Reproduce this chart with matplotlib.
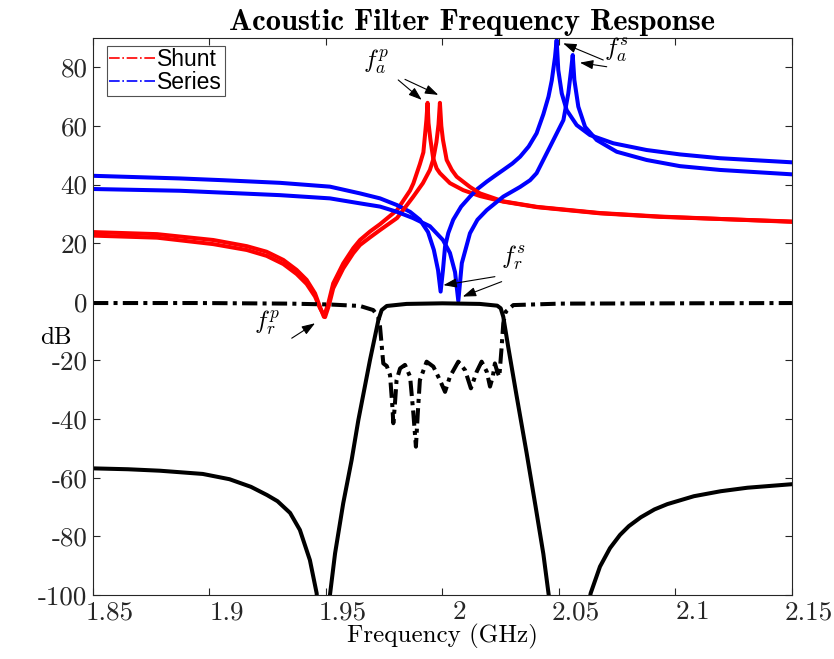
import numpy as np
import matplotlib
matplotlib.use('Agg')
from matplotlib import pyplot as plt
from matplotlib.lines import Line2D
import matplotlib.transforms as mtransforms

plt.rcParams['font.family'] = 'serif'
plt.rcParams['font.serif'] = ['cmr10']
plt.rcParams['mathtext.fontset'] = 'cm'
plt.rcParams['axes.unicode_minus'] = False
plt.rcParams['axes.formatter.use_mathtext'] = True

# shunt resonators (impedance, dB)
f_shunt1 = [1.8500, 1.8775, 1.9016, 1.9160, 1.9245, 1.9317, 1.9374, 1.9417, 1.9453, 1.9474,
            1.9491, 1.9510, 1.9531, 1.9574, 1.9617, 1.9646, 1.9689, 1.9732, 1.9805, 1.9861,
            1.9875, 1.9903, 1.9918, 1.9925, 1.9931, 1.9936, 1.9940, 1.9948, 1.9960, 1.9975,
            1.9989, 2.0032, 2.0089, 2.0161, 2.0260, 2.0406, 2.0676, 2.0933, 2.1500]
db_shunt1 = [23.8, 23.1, 21.1, 19.0, 17.1, 14.3, 10.9, 7.5, 2.9, -1.7,
             -5.1, -0.5, 6.3, 13.1, 18.3, 21.1, 24.0, 26.5, 31.3, 38.0,
             40.4, 47.0, 51.0, 56.9, 62.0, 67.9, 61.0, 55.5, 49.0, 45.5,
             43.9, 40.5, 38.1, 36.1, 34.2, 32.3, 30.2, 29.0, 27.4]

f_shunt2 = [1.8500, 1.8775, 1.9016, 1.9160, 1.9245, 1.9317, 1.9374, 1.9417, 1.9453, 1.9474,
            1.9496, 1.9513, 1.9531, 1.9574, 1.9617, 1.9646, 1.9689, 1.9732, 1.9805, 1.9873,
            1.9916, 1.9946, 1.9960, 1.9974, 1.9983, 1.9989, 1.9995, 2.0002, 2.0018, 2.0040,
            2.0061, 2.0118, 2.0161, 2.0260, 2.0406, 2.0676, 2.0933, 2.1500]
db_shunt2 = [22.6, 21.9, 19.7, 17.7, 15.7, 12.9, 9.5, 6.1, 1.8, -2.1,
             -5.2, -1.1, 4.6, 11.4, 16.6, 19.4, 22.0, 24.5, 28.6, 35.7,
             40.5, 45.0, 48.5, 54.5, 60.5, 67.9, 60.0, 55.3, 48.4, 45.0,
             42.7, 39.2, 37.0, 34.3, 32.4, 30.3, 29.1, 27.3]

# series resonators
f_series1 = [1.8500, 1.8873, 1.9058, 1.9303, 1.9517, 1.9646, 1.9732, 1.9805, 1.9861, 1.9903,
             1.9938, 1.9963, 1.9981, 1.9992, 2.0002, 2.0011, 2.0025, 2.0046, 2.0080, 2.0118,
             2.0150, 2.0190, 2.0225, 2.0261, 2.0300, 2.0333, 2.0370, 2.0404, 2.0433, 2.0455,
             2.0469, 2.0483, 2.0490, 2.0497, 2.0512, 2.0533, 2.0576, 2.0633, 2.0733, 2.0876,
             2.1019, 2.1191, 2.1500]
db_series1 = [43.0, 42.1, 41.5, 40.6, 39.3, 37.0, 35.3, 33.0, 30.7, 28.0,
              23.8, 17.7, 10.8, 3.5, 10.8, 18.8, 23.5, 28.0, 32.5, 35.9,
              38.5, 41.0, 43.0, 45.0, 47.2, 49.5, 53.0, 57.5, 64.0, 70.0,
              75.5, 83.5, 89.3, 79.1, 71.1, 65.4, 60.3, 56.9, 54.1, 51.8,
              50.3, 49.0, 47.6]

f_series2 = [1.8500, 1.8873, 1.9303, 1.9517, 1.9646, 1.9732, 1.9805, 1.9873, 1.9946, 2.0002,
             2.0032, 2.0054, 2.0068, 2.0083, 2.0118, 2.0150, 2.0190, 2.0261, 2.0333, 2.0376,
             2.0404, 2.0462, 2.0519, 2.0540, 2.0552, 2.0559, 2.0566, 2.0583, 2.0612, 2.0662,
             2.0748, 2.0876, 2.1019, 2.1191, 2.1500]
db_series2 = [38.5, 37.9, 36.4, 35.3, 33.6, 32.5, 30.7, 28.6, 25.8, 21.1,
              16.7, 10.1, 0.3, 13.2, 23.4, 28.0, 31.3, 35.9, 39.2, 41.5,
              43.9, 53.0, 62.0, 71.1, 79.1, 84.2, 75.7, 66.6, 59.7, 55.2,
              51.2, 48.4, 46.3, 45.0, 43.5]

# filter transmission S21
f_s21 = [1.8500, 1.8650, 1.8787, 1.8971, 1.9086, 1.9178, 1.9247, 1.9292, 1.9346, 1.9388,
         1.9431, 1.9460, 1.9488, 1.9517, 1.9539, 1.9574, 1.9610, 1.9639, 1.9689, 1.9725,
         1.9739, 1.9761, 1.9846, 2.0000, 2.0160, 2.0235, 2.0250, 2.0261, 2.0282, 2.0318,
         2.0361, 2.0400, 2.0433, 2.0456, 2.0545, 2.0636, 2.0676, 2.0719, 2.0762, 2.0800,
         2.0851, 2.0910, 2.0965, 2.1079, 2.1194, 2.1309, 2.1500]
db_s21 = [-56.8, -57.1, -57.6, -58.7, -60.5, -63.1, -65.9, -68.0, -72.0, -77.8,
          -88.1, -99.4, -140.0, -100.0, -85.8, -68.7, -54.0, -40.3, -19.8, -6.2,
          -2.8, -1.4, -0.7, -0.5, -0.7, -1.3, -2.2, -5.1, -15.3, -32.0,
          -51.5, -70.0, -86.0, -100.0, -140.0, -99.4, -90.3, -84.0, -79.5, -76.5,
          -73.5, -70.8, -69.0, -66.3, -64.6, -63.4, -62.2]

# filter reflection S11
f_s11 = [1.8500, 1.8959, 1.9345, 1.9517, 1.9646, 1.9703, 1.9724, 1.9732, 1.9746, 1.9761,
         1.9775, 1.9785, 1.9789, 1.9795, 1.9803, 1.9818, 1.9839, 1.9861, 1.9875, 1.9886,
         1.9894, 1.9903, 1.9932, 1.9961, 1.9989, 2.0011, 2.0032, 2.0068, 2.0097, 2.0122,
         2.0147, 2.0168, 2.0190, 2.0204, 2.0216, 2.0225, 2.0235, 2.0244, 2.0254, 2.0261,
         2.0271, 2.0304, 2.0504, 2.1500]
db_s11 = [-0.4, -0.4, -0.6, -0.9, -1.4, -2.8, -5.1, -8.5, -21.0, -21.9,
          -25.0, -35.8, -41.4, -35.8, -26.7, -22.7, -21.5, -25.5, -38.0, -49.4,
          -38.0, -26.7, -20.4, -22.1, -26.7, -30.7, -25.5, -20.4, -23.3, -29.5,
          -23.8, -20.4, -23.8, -28.9, -25.5, -21.0, -23.8, -25.5, -15.3, -7.3,
          -3.4, -1.1, -0.6, -0.4]

xticks = [1.85, 1.9, 1.95, 2.0, 2.05, 2.1, 2.15]
xticklabels = ['1.85', '1.9', '1.95', '2', '2.05', '2.1', '2.15']
yticks = [-100, -80, -60, -40, -20, 0, 20, 40, 60, 80]
yticklabels = ['-100', '-80', '-60', '-40', '-20', '0', '20', '40', '60', '80']

fig = plt.figure(figsize=(8.34, 6.59), dpi=100)
ax = fig.add_axes([0.1115, 0.0971, 0.8381, 0.8452])

ax.plot(f_shunt1, db_shunt1, color='#ff0000', lw=2.9)
ax.plot(f_series1, db_series1, color='#0000ff', lw=2.9)
ax.plot(f_shunt2, db_shunt2, color='#ff0000', lw=2.9)
ax.plot(f_series2, db_series2, color='#0000ff', lw=2.9)
ax.plot(f_s21, db_s21, color='k', lw=2.9)
ax.plot(f_s11, db_s11, color='k', lw=2.9, linestyle=(0, (3.8, 1.3, 1.0, 1.3)),
        dash_capstyle='butt')

ax.set_xlim(1.85, 2.15)
ax.set_ylim(-100, 90)
ax.set_xticks(xticks)
ax.set_xticklabels(xticklabels)
ax.set_yticks(yticks)
ax.set_yticklabels(yticklabels)
ax.tick_params(direction='in', length=5, width=0.8, top=True, right=True,
               labelsize=19.5, colors='#262626', pad=4)
for s in ax.spines.values():
    s.set_color('#262626')
    s.set_linewidth(0.8)

# MATLAB latex tick labels sit a bit to the right
offset = mtransforms.ScaledTranslation(0.17, 0, fig.dpi_scale_trans)
for lab in ax.get_xticklabels():
    lab.set_transform(lab.get_transform() + offset)

ax.set_title('Acoustic Filter Frequency Response', fontfamily='cmb10', fontsize=22,
             x=0.542, pad=6)
ax.set_xlabel('Frequency (GHz)', fontsize=18, labelpad=0)
ax.set_ylabel('dB', fontsize=18, rotation=0, ha='center', va='center')
ax.yaxis.set_label_coords(-0.053, 0.462)

# annotations
aprops = dict(arrowstyle='-|>,head_length=0.8,head_width=0.28', color='k', lw=0.8,
              shrinkA=0, shrinkB=0)
ax.text(1.9715, 81.8, '$f_a^p$', fontsize=18, ha='center', va='center')
ax.annotate('', xy=(1.9911, 68.9), xytext=(1.9810, 75.7), arrowprops=aprops)
ax.annotate('', xy=(1.9982, 70.6), xytext=(1.9839, 75.9), arrowprops=aprops)

ax.text(2.0745, 85.9, '$f_a^s$', fontsize=18, ha='center', va='center')
ax.annotate('', xy=(2.0518, 88.2), xytext=(2.0690, 82.5), arrowprops=aprops)
ax.annotate('', xy=(2.0590, 81.6), xytext=(2.0705, 80.2), arrowprops=aprops)

ax.text(2.0303, 15.0, '$f_r^s$', fontsize=18, ha='center', va='center')
ax.annotate('', xy=(2.0004, 5.7), xytext=(2.0225, 8.6), arrowprops=aprops)
ax.annotate('', xy=(2.0087, 1.8), xytext=(2.0254, 6.9), arrowprops=aprops)

ax.text(1.9247, -7.2, '$f_r^p$', fontsize=18, ha='center', va='center')
ax.annotate('', xy=(1.9453, -7.3), xytext=(1.9353, -12.4), arrowprops=aprops)

handles = [Line2D([], [], color='#ff0000', lw=1.2, linestyle='-.'),
           Line2D([], [], color='#0000ff', lw=1.2, linestyle='-.')]
leg = ax.legend(handles, ['Shunt', 'Series'], loc='upper left',
                bbox_to_anchor=(0.02, 0.986), prop={'family': 'Liberation Sans', 'size': 16.5},
                handlelength=2.0, handletextpad=0.1, labelspacing=0.0, borderpad=0.1,
                borderaxespad=0, frameon=True, fancybox=False)
leg.get_frame().set_edgecolor('#262626')
leg.get_frame().set_linewidth(0.8)

fig.savefig('out.png', dpi=100)
